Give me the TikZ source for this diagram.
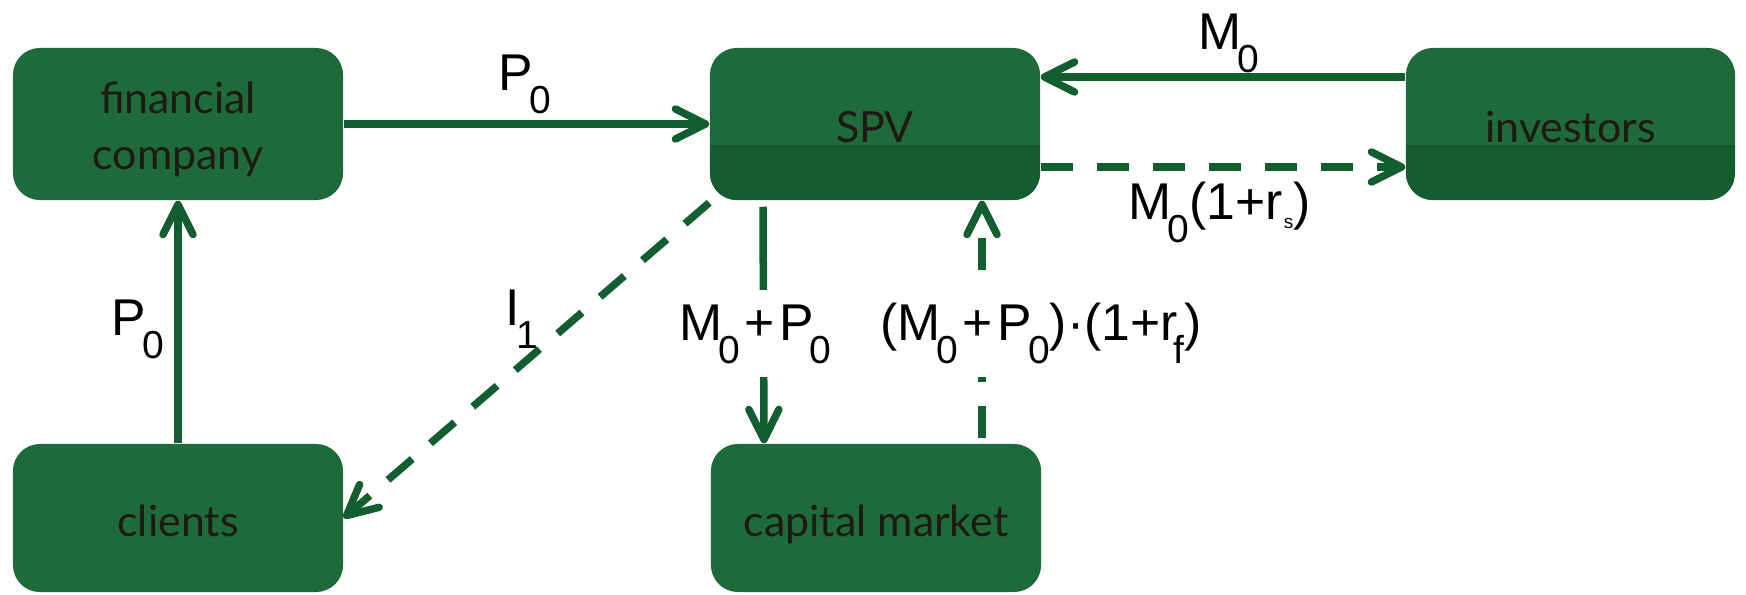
\documentclass[tikz,border=0pt]{standalone}
\usepackage{fontspec}
\setmainfont{Liberation Sans}
\newfontfamily\boxfont{Lato}
\usetikzlibrary{arrows.meta,calc}

\definecolor{flowgreen}{HTML}{135E30}
\definecolor{boxgreen}{HTML}{1F6A3B}
\definecolor{boxdark}{HTML}{145D31}
\definecolor{boxtext}{HTML}{1E1A12}

% lowered index (digit or letter) and a very small one
\newcommand\lo[1]{\kern-1.15pt\raisebox{-6.55pt}{\fontsize{11.1}{13}\selectfont #1}}
\newcommand\tinysub[1]{\kern0.3pt\raisebox{-2.6pt}{\fontsize{5.4}{6}\selectfont #1}}

\begin{document}
\begin{tikzpicture}[x=0.01cm,y=-0.01cm,
  box/.style={draw=none, fill=boxgreen, rounded corners=0.27cm,
    minimum width=3.3cm, minimum height=1.52cm, inner sep=0pt,
    text=boxtext, font=\boxfont\fontsize{12.2}{15.65}\selectfont,
    align=center, text height=0.36cm, text depth=0pt},
  lowbox/.style={box, minimum height=1.48cm},
  darkbase/.style={path picture={\fill[boxdark, sharp corners]
    (path picture bounding box.south west) rectangle
    ($(path picture bounding box.east)+(0,21)$);}},
  flow/.style={draw=flowgreen, line width=0.075cm,
    -{Straight Barb[length=0.3cm,width=0.3cm,round]}},
  dashflow/.style={flow, dash pattern=on 0.32cm off 0.24cm},
  amount/.style={font=\fontsize{14.7}{17}\selectfont, text=black,
    inner xsep=0pt, inner ysep=0pt, anchor=base west},
  cover/.style={fill=white, inner ysep=4pt}]

\useasboundingbox (0,0) rectangle (1746,594);

% parties
\node[box, text height=0.9cm] (fc) at (178,124) {financial\\company};
\node[box, darkbase] (spv) at (875,124) {SPV};
\node[box, darkbase, minimum width=3.29cm] (inv) at (1570.5,124) {investors};
\node[lowbox] (cl) at (178,518) {clients};
\node[lowbox] (cm) at (876,518) {capital market};

% payment flows
\draw[flow] (fc.east) -- (spv.west);
\draw[flow] ($(inv.west)+(0,-47)$) -- ($(spv.east)+(0,-47)$);
\draw[dashflow] ($(spv.east)+(0,43)$) -- ($(inv.west)+(0,43)$);
\draw[flow] (cl.north) -- (fc.south);
\draw[dashflow] ($(spv.south west)+(0,2)$) -- (cl.east);
\draw[flow] ($(spv.south)+(-112,6)$) -- ($(cm.north)+(-112,0)$);
\draw[dashflow] ($(cm.north)+(106,-5)$) -- ($(spv.south)+(107,0)$);

% amounts
\node[amount] (p0top) at (498,90) {P\lo{0}};
\node[amount] (m0top) at (1198,49) {M\lo{0}};
\node[amount] (p0left) at (111,335) {P\lo{0}};
\node[amount] (i1) at (505,325) {I\lo{1}};
\node[amount] (m0rs) at (1128,219) {M\lo{0}(1+r\tinysub{s})};
\node[amount, cover] (sumlbl) at (679,340) {M\lo{0}\kern1.1pt+\kern1.4pt P\lo{0}};
\node[amount, cover] (growlbl) at (880,340) {(M\lo{0}\kern1.1pt+\kern1.4pt P\lo{0})·(1+r\lo{f})};
\end{tikzpicture}
\end{document}
